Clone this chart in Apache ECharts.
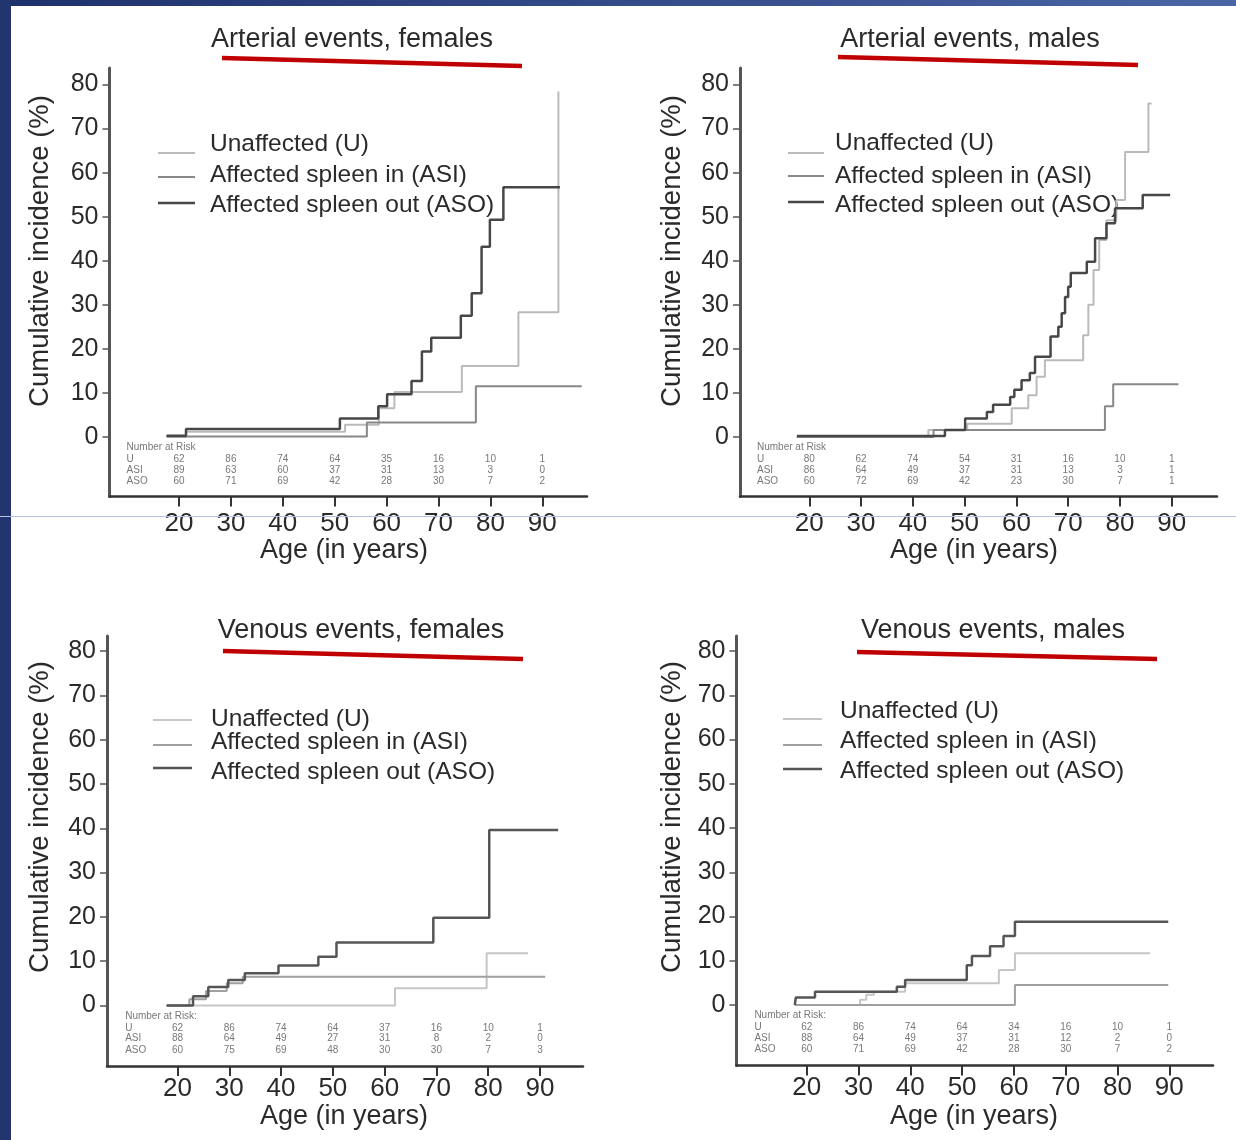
<!DOCTYPE html>
<html>
<head>
<meta charset="UTF-8">
<title>Cumulative incidence by age</title>
<script src="https://cdn.jsdelivr.net/npm/echarts@6.0.0/dist/echarts.min.js"></script>
<style>
  html, body { margin: 0; padding: 0; background: #fff; }
  #main { width: 1236px; height: 1140px; }
</style>
</head>
<body>
<div id="main"></div>
<script>
// tick labels
var xTicks = [20, 30, 40, 50, 60, 70, 80, 90];
var yTicks = [0, 10, 20, 30, 40, 50, 60, 70, 80];
var legendNames = ['Unaffected (U)', 'Affected spleen in (ASI)', 'Affected spleen out (ASO)'];

// step curves: [age, cumulative incidence %] - value holds from that age on
var artFemU   = [[17.6, 0], [21.35, 1.2], [52, 2.8], [58.5, 6.5], [61.5, 10.2], [74.5, 16.1], [85.4, 28.3], [93.1, 78.4]];
var artFemASI = [[17.6, 0.1], [56.2, 3.3], [77.2, 11.5], [97.6, 11.5]];
var artFemASO = [[17.6, 0.3], [21.35, 1.8], [51, 4.2], [58.4, 7.0], [60.1, 9.7], [64.8, 12.7], [66.8, 19.4], [68.6, 22.5],
                 [74.3, 27.5], [76.4, 32.6], [78.3, 43.2], [79.9, 49.3], [82.5, 56.7], [93.4, 56.7]];

var artMalU   = [[17.6, 0], [43, 1.6], [50.5, 3.0], [59.1, 6.5], [62.3, 9.5], [63.9, 13.7], [65.5, 17.4], [72.9, 23.1],
                 [73.9, 30], [74.9, 37.9], [76, 44.7], [77.4, 49.2], [79.3, 53.8], [81, 64.7], [85.5, 75.7], [86.1, 75.7]];
var artMalASI = [[17.6, 0], [44, 1.6], [77.1, 7.0], [78.7, 12.0], [91.3, 12.0]];
var artMalASO = [[17.6, 0.2], [46.2, 1.6], [50.1, 4.2], [54.3, 5.7], [55.5, 7.3], [58.8, 9.1], [59.6, 10.7], [61, 12.9],
                 [62.6, 14.5], [63.6, 18.2], [66.6, 22.8], [68.1, 25], [68.75, 28.1], [69.4, 31.8], [70, 34.1], [70.5, 37.2],
                 [73.6, 39.8], [75.2, 45.1], [77.4, 48.5], [79.05, 51.9], [84.4, 54.9], [89.7, 54.9]];

var venFemU   = [[17.9, 0], [62, 3.9], [79.7, 11.8], [87.7, 11.8]];
var venFemASI = [[17.9, 0], [22.3, 1.4], [25.5, 3.3], [29.5, 5], [32.6, 6.5], [91, 6.5]];
var venFemASO = [[17.9, 0], [23, 2.1], [25.95, 4.2], [29.8, 5.75], [33, 7.25], [39.5, 9.0], [47.2, 11.0], [50.7, 14.2],
                 [69.4, 19.8], [80.2, 39.6], [93.5, 39.6]];

var venMalU   = [[17.7, 0], [30.3, 1.2], [31.5, 2.3], [33, 3.0], [39, 4.9], [57.1, 7.9], [60.2, 11.7], [86.3, 11.7]];
var venMalASI = [[17.7, 0], [60.2, 4.5], [89.8, 4.5]];
var venMalASO = [[17.7, 0], [17.9, 1.7], [21.6, 3.0], [37.4, 4.1], [39, 5.65], [50.9, 9.0], [51.9, 11.1], [55.4, 13.3],
                 [58, 15.6], [60.2, 18.8], [89.8, 18.8]];

// number at risk (rows U, ASI, ASO at ages 20..90)
var riskAges = [20, 30, 40, 50, 60, 70, 80, 90];
var riskRows = ['U', 'ASI', 'ASO'];
var artFemRisk = [[62, 86, 74, 64, 35, 16, 10, 1], [89, 63, 60, 37, 31, 13, 3, 0], [60, 71, 69, 42, 28, 30, 7, 2]];
var artMalRisk = [[80, 62, 74, 54, 31, 16, 10, 1], [86, 64, 49, 37, 31, 13, 3, 1], [60, 72, 69, 42, 23, 30, 7, 1]];
var venFemRisk = [[62, 86, 74, 64, 37, 16, 10, 1], [88, 64, 49, 27, 31, 8, 2, 0], [60, 75, 69, 48, 30, 30, 7, 3]];
var venMalRisk = [[62, 86, 74, 64, 34, 16, 10, 1], [88, 64, 49, 37, 31, 12, 2, 0], [60, 71, 69, 42, 28, 30, 7, 2]];

var FONT = '"Liberation Sans", Arial, sans-serif';
var TXT = '#2a2a2a';

var artStyle = [{color: '#bababa', width: 2}, {color: '#888', width: 2}, {color: '#474747', width: 2.5}];
var venStyle = [{color: '#c6c6c6', width: 2}, {color: '#a0a0a0', width: 2}, {color: '#555', width: 2.5}];

// layout of the four panels (pixels)
var panels = [
  {title: 'Arterial events, females', curves: [artFemU, artFemASI, artFemASO], risk: artFemRisk, st: artStyle, head: 'Number at Risk',
   box: {l: 109.5, r: 587, t: 68, b: 496.5}, x20: 179, x90: 542.3, y0: 437, y80: 84.5, lblM: 14.5,
   tPos: [352, 40], red: [222, 58, 522, 66], yName: [40, 251], xName: [344, 551],
   leg: {x1: 158, x2: 195, tx: 210, ty: [144, 175, 205], ly: [153, 177, 203]}},
  {title: 'Arterial events, males', curves: [artMalU, artMalASI, artMalASO], risk: artMalRisk, st: artStyle, head: 'Number at Risk',
   box: {l: 740, r: 1217, t: 68, b: 496.5}, x20: 809.3, x90: 1171.7, y0: 437, y80: 84.5, lblM: 14.5,
   tPos: [970, 40], red: [838, 57, 1138, 65], yName: [672, 251], xName: [974, 551],
   leg: {x1: 788, x2: 824, tx: 835, ty: [143, 176, 205], ly: [153, 176, 202]}},
  {title: 'Venous events, females', curves: [venFemU, venFemASI, venFemASO], risk: venFemRisk, st: venStyle, head: 'Number at Risk:',
   box: {l: 107, r: 583, t: 636, b: 1066}, x20: 177.5, x90: 540, y0: 1005.5, y80: 651, lblM: 9.5,
   tPos: [361, 631], red: [223, 651, 523, 659], yName: [40, 817], xName: [344, 1117],
   leg: {x1: 153, x2: 192, tx: 211, ty: [719, 742, 772], ly: [720, 745, 768]}},
  {title: 'Venous events, males', curves: [venMalU, venMalASI, venMalASO], risk: venMalRisk, st: venStyle, head: 'Number at Risk:',
   box: {l: 736.5, r: 1213, t: 636, b: 1065.5}, x20: 806.7, x90: 1169.3, y0: 1005, y80: 651, lblM: 9.5,
   tPos: [993, 631], red: [857, 652, 1157, 659], yName: [672, 817], xName: [974, 1117],
   leg: {x1: 783, x2: 822, tx: 840, ty: [711, 741, 771], ly: [719, 745, 769]}}
];

// rows of the risk table, in axis units below zero
var riskHeadY = -2.4, riskRowY = [-5.1, -7.5, -10.0], riskLabelAge = 9.9;

var grids = [], xAxes = [], yAxes = [], series = [], graphics = [];

// slide frame
graphics.push({type: 'rect', shape: {x: 0, y: 0, width: 1236, height: 6}, z: 100,
  style: {fill: new echarts.graphic.LinearGradient(0, 0, 1, 0, [{offset: 0, color: '#1f316c'}, {offset: 1, color: '#4a64a6'}])}});
graphics.push({type: 'rect', shape: {x: 0, y: 0, width: 11, height: 1140}, z: 100, style: {fill: '#22356f'}});
graphics.push({type: 'line', shape: {x1: 0, y1: 516.5, x2: 1236, y2: 516.5}, z: 101, style: {stroke: '#b3c3e2', lineWidth: 1}});

panels.forEach(function (p, i) {
  var kx = 70 / (p.x90 - p.x20);
  var ky = 80 / (p.y0 - p.y80);
  grids.push({left: p.box.l, top: p.box.t, width: p.box.r - p.box.l, height: p.box.b - p.box.t,
    containLabel: false, outerBoundsMode: 'none'});
  xAxes.push({type: 'value', gridIndex: i,
    min: 20 - (p.x20 - p.box.l) * kx, max: 20 + (p.box.r - p.x20) * kx,
    axisLine: {show: true, onZero: false, lineStyle: {color: '#333', width: 2.5}},
    axisTick: {show: true, customValues: xTicks, length: 10, lineStyle: {color: '#333', width: 2}},
    axisLabel: {customValues: xTicks, margin: p.lblM, fontSize: 26, color: TXT, fontFamily: FONT},
    splitLine: {show: false}});
  yAxes.push({type: 'value', gridIndex: i,
    min: -(p.box.b - p.y0) * ky, max: (p.y0 - p.box.t) * ky,
    axisLine: {show: true, onZero: false, lineStyle: {color: '#555', width: 3}},
    axisTick: {show: true, customValues: yTicks, length: 7, lineStyle: {color: '#555', width: 1.5}},
    axisLabel: {customValues: yTicks, margin: 11, fontSize: 25, color: TXT, fontFamily: FONT},
    splitLine: {show: false}});

  p.curves.forEach(function (c, j) {
    series.push({type: 'line', name: legendNames[j], xAxisIndex: i, yAxisIndex: i, data: c,
      step: 'end', symbol: 'none', showSymbol: false, z: 2 + j,
      lineStyle: {color: p.st[j].color, width: p.st[j].width}});
  });

  // number at risk table
  var cells = [{value: [riskLabelAge, riskHeadY], name: p.head, label: {align: 'left'}}];
  riskRows.forEach(function (r, j) {
    cells.push({value: [riskLabelAge, riskRowY[j]], name: r, label: {align: 'left'}});
    riskAges.forEach(function (a, k) {
      cells.push({value: [a, riskRowY[j]], name: String(p.risk[j][k])});
    });
  });
  series.push({type: 'scatter', xAxisIndex: i, yAxisIndex: i, data: cells, symbolSize: 1,
    itemStyle: {color: 'rgba(0,0,0,0)'}, silent: true,
    label: {show: true, position: 'inside', formatter: '{b}', fontSize: 10, color: '#555', fontFamily: FONT}});

  // title and red underline
  graphics.push({type: 'text', x: p.tPos[0], y: p.tPos[1],
    style: {text: p.title, fontSize: 27, fontFamily: FONT, fill: TXT, align: 'center', verticalAlign: 'middle'}});
  graphics.push({type: 'line', shape: {x1: p.red[0], y1: p.red[1], x2: p.red[2], y2: p.red[3]},
    style: {stroke: '#c00000', lineWidth: 4.5}});
  // axis names
  graphics.push({type: 'text', x: p.yName[0], y: p.yName[1], rotation: Math.PI / 2,
    style: {text: 'Cumulative incidence (%)', fontSize: 27.5, fontFamily: FONT, fill: TXT, align: 'center', verticalAlign: 'middle'}});
  graphics.push({type: 'text', x: p.xName[0], y: p.xName[1],
    style: {text: 'Age (in years)', fontSize: 27, fontFamily: FONT, fill: TXT, align: 'center', verticalAlign: 'middle'}});
  // legend
  legendNames.forEach(function (n, j) {
    graphics.push({type: 'line', shape: {x1: p.leg.x1, y1: p.leg.ly[j], x2: p.leg.x2, y2: p.leg.ly[j]},
      style: {stroke: p.st[j].color, lineWidth: p.st[j].width}});
    graphics.push({type: 'text', x: p.leg.tx, y: p.leg.ty[j],
      style: {text: n, fontSize: 24.5, fontFamily: FONT, fill: TXT, align: 'left', verticalAlign: 'middle'}});
  });
});

var chart = echarts.init(document.getElementById('main'));
chart.setOption({
  animation: false,
  backgroundColor: '#fff',
  grid: grids,
  xAxis: xAxes,
  yAxis: yAxes,
  series: series,
  graphic: graphics
});
</script>
</body>
</html>
